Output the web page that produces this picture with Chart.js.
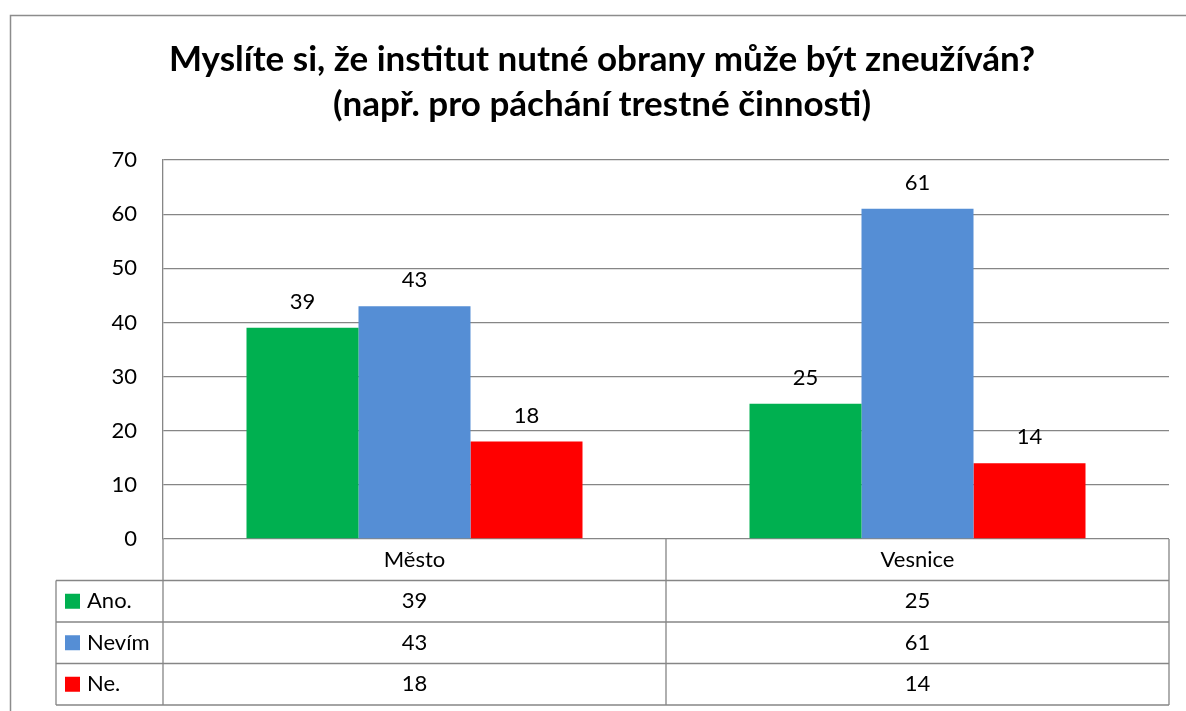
<!DOCTYPE html>
<html>
<head>
<meta charset="utf-8">
<script src="https://cdn.jsdelivr.net/npm/chart.js@4"></script>
<style>
  html, body { margin: 0; padding: 0; background: #fff; }
  #wrap { width: 1186px; height: 711px; }
</style>
</head>
<body>
<div id="wrap"><canvas id="chart" width="1186" height="711"></canvas></div>
<script>
// Data
const categories = ['Město', 'Vesnice'];
const seriesNames = ['Ano.', 'Nevím', 'Ne.'];
const anoValues = [39, 25];
const nevimValues = [43, 61];
const neValues = [18, 14];
const yTicks = [0, 10, 20, 30, 40, 50, 60, 70];
const titleLines = ['Myslíte si, že institut nutné obrany může být zneužíván?', '(např. pro páchání trestné činnosti)'];

const colors = ['#00B050', '#558ED5', '#FF0000'];
const gridColor = '#868686';
const fontFamily = 'Lato, "Open Sans", sans-serif';
const textSize = 22;
const rowHeight = 41.5;
const padLeft = 35;

// Outer frame (clipped on right and bottom like the original)
const framePlugin = {
    id: 'frame',
    beforeDraw(chart) {
        const ctx = chart.ctx;
        ctx.save();
        ctx.strokeStyle = '#8c8c8c';
        ctx.lineWidth = 1.5;
        ctx.beginPath();
        ctx.moveTo(10.5, 720);
        ctx.lineTo(10.5, 15.5);
        ctx.lineTo(1200, 15.5);
        ctx.stroke();
        ctx.restore();
    }
};

// Values above the bars
const labelPlugin = {
    id: 'barLabels',
    afterDatasetsDraw(chart) {
        const ctx = chart.ctx;
        ctx.save();
        ctx.font = textSize + 'px ' + fontFamily;
        ctx.fillStyle = '#000';
        ctx.textAlign = 'center';
        ctx.textBaseline = 'middle';
        chart.data.datasets.forEach((ds, i) => {
            chart.getDatasetMeta(i).data.forEach((bar, j) => {
                ctx.fillText(String(ds.data[j]), bar.x, bar.y - 26);
            });
        });
        ctx.restore();
    }
};

// Data table under the plot
const tablePlugin = {
    id: 'dataTable',
    afterDraw(chart) {
        const ctx = chart.ctx;
        const area = chart.chartArea;
        const x = chart.scales.x;
        const top = area.bottom;
        const headBottom = top + rowHeight;
        const bottom = headBottom + rowHeight * seriesNames.length;
        const legendLeft = 56;
        const cols = [area.left];
        for (let i = 0; i < categories.length - 1; i++) {
            cols.push((x.getPixelForValue(i) + x.getPixelForValue(i + 1)) / 2);
        }
        cols.push(area.right);

        ctx.save();
        ctx.strokeStyle = gridColor;
        ctx.lineWidth = 1.3;
        ctx.beginPath();
        cols.forEach(cx => {
            ctx.moveTo(cx, top);
            ctx.lineTo(cx, bottom);
        });
        ctx.moveTo(legendLeft, headBottom);
        ctx.lineTo(legendLeft, bottom);
        for (let r = 0; r <= seriesNames.length; r++) {
            const y = headBottom + r * rowHeight;
            ctx.moveTo(legendLeft, y);
            ctx.lineTo(area.right, y);
        }
        ctx.stroke();

        ctx.font = textSize + 'px ' + fontFamily;
        ctx.fillStyle = '#000';
        ctx.textBaseline = 'middle';
        ctx.textAlign = 'center';
        categories.forEach((c, i) => {
            ctx.fillText(c, x.getPixelForValue(i), top + rowHeight / 2);
        });
        chart.data.datasets.forEach((ds, r) => {
            const cy = headBottom + r * rowHeight + rowHeight / 2;
            ctx.textAlign = 'center';
            ctx.fillStyle = '#000';
            ds.data.forEach((v, i) => {
                ctx.fillText(String(v), x.getPixelForValue(i), cy);
            });
            ctx.fillStyle = ds.backgroundColor;
            ctx.fillRect(65, cy - 7.5, 15, 15);
            ctx.fillStyle = '#000';
            ctx.textAlign = 'left';
            ctx.fillText(ds.label, 87, cy);
        });
        ctx.restore();
    }
};

new Chart(document.getElementById('chart'), {
    type: 'bar',
    data: {
        labels: categories,
        datasets: [
            { label: seriesNames[0], data: anoValues, backgroundColor: colors[0] },
            { label: seriesNames[1], data: nevimValues, backgroundColor: colors[1] },
            { label: seriesNames[2], data: neValues, backgroundColor: colors[2] }
        ]
    },
    options: {
        responsive: false,
        animation: false,
        layout: { padding: { left: padLeft, right: 17, top: 0, bottom: 172 } },
        datasets: {
            bar: { barPercentage: 1, categoryPercentage: 0.668, borderWidth: 0 }
        },
        plugins: {
            legend: { display: false },
            tooltip: { enabled: false },
            title: {
                display: true,
                text: titleLines,
                color: '#000',
                font: { family: fontFamily, size: 35, weight: 'bold', lineHeight: 1.286 },
                padding: { top: 37.5, bottom: 32.5 }
            }
        },
        scales: {
            x: {
                display: true,
                grid: { display: false },
                border: { display: false },
                ticks: { display: false },
                afterFit(scale) { scale.height = 0; }
            },
            y: {
                min: 0,
                max: 70,
                afterBuildTicks(scale) { scale.ticks = yTicks.map(v => ({ value: v })); },
                afterFit(scale) { scale.width = 163 - padLeft; },
                grid: { color: gridColor, lineWidth: 1.3, drawTicks: false },
                border: { display: true, color: gridColor, width: 1.3 },
                ticks: {
                    color: '#000',
                    padding: 26,
                    font: { family: fontFamily, size: textSize }
                }
            }
        }
    },
    plugins: [framePlugin, labelPlugin, tablePlugin]
});
</script>
</body>
</html>
